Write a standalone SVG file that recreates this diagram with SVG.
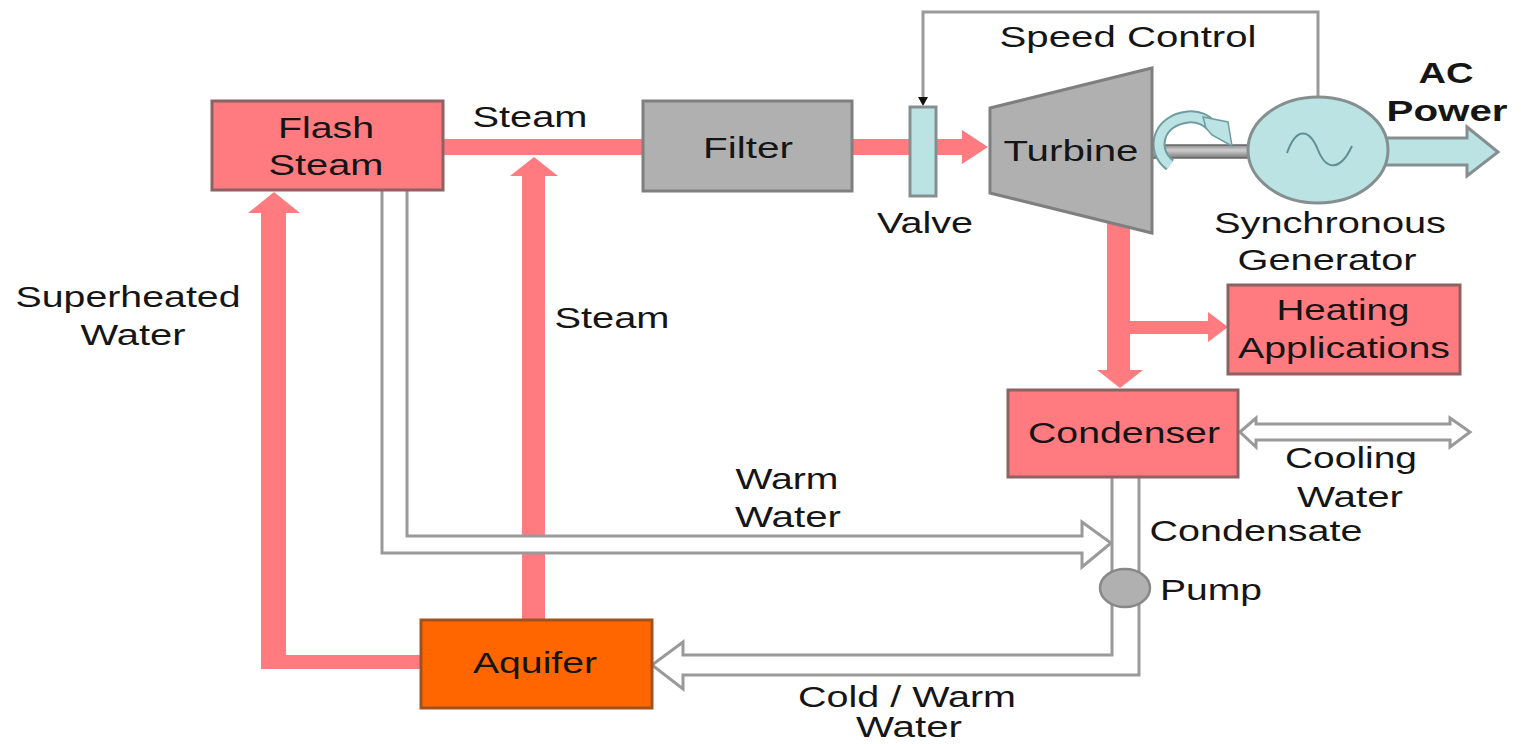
<svg xmlns="http://www.w3.org/2000/svg" width="1521" height="744" viewBox="0 0 1521 744">
<defs>
<style>
text{font-family:"Liberation Sans",Arial,sans-serif;font-size:30px;fill:#151515;text-anchor:middle}
.b{font-weight:bold}
.pink{fill:#ff7b80;stroke:none}
.box{fill:#ff7b80;stroke:#8c6262;stroke-width:3}
.gbox{fill:#b0b0b0;stroke:#7f7f7f;stroke-width:3}
.cyan{fill:#bce3e4;stroke:#858f90;stroke-width:3}
.pipe{fill:#ffffff;stroke:#9a9a9a;stroke-width:3}
.wire{fill:none;stroke:#9a9a9a;stroke-width:3}
</style>
<linearGradient id="shaft" x1="0" y1="0" x2="0" y2="1">
<stop offset="0" stop-color="#8a8a8a"/><stop offset="0.4" stop-color="#cfcfcf"/><stop offset="1" stop-color="#7a7a7a"/>
</linearGradient>
</defs>
<rect width="1521" height="744" fill="#ffffff"/>

<g id="connectors">
<rect class="pink" x="443" y="139" width="201" height="16"/>
<path class="pink" d="M852,139 H962 V130 L988,147 L962,164 V155 H852 Z"/>
<path class="pink" d="M522,620 V176 H510 L534,157 L558,176 H545 V620 Z"/>
<path class="pink" d="M421,655 H286 V213 H300 L274,192 L248,213 H261 V669 H421 Z"/>
<path class="pink" d="M1107,222 V370 H1097 L1120,388 L1143,370 H1130 V222 Z"/>
<path class="pink" d="M1128,321 H1208 V312 L1228,327 L1208,342 V334 H1128 Z"/>
<polyline class="wire" points="923,98 923,12 1318,12 1318,97"/>
<polygon points="918,97 928,97 923,106" fill="#111"/>
<path class="pipe" d="M1112,477 V655 H683 V642 L652,665 L683,689 V675 H1139 V477"/>
<path class="pipe" d="M407,190 V536 H1082 V522 L1111,543 L1082,567 V553 H382 V190"/>
<polygon class="pipe" points="1240,432 1256,418 1256,424 1450,424 1450,418 1470,432 1450,447 1450,440 1256,440 1256,447"/>
<rect x="1152" y="145" width="96" height="13" fill="url(#shaft)" stroke="#666" stroke-width="1.5"/>
<path d="M1170,165 C1150,150 1158,120 1188,117 C1198,116 1206,120 1212,126" fill="none" stroke="#6f9ca1" stroke-width="13"/>
<path d="M1170,165 C1150,150 1158,120 1188,117 C1198,116 1206,120 1212,126" fill="none" stroke="#bce3e4" stroke-width="9"/>
<polygon points="1203,117 1228,122 1232,146 1212,135 1206,128" fill="#bce3e4" stroke="#6f9ca1" stroke-width="1.5"/>
<polygon class="cyan" points="1383,138 1467,138 1467,127 1498,152 1467,176 1467,165 1383,165"/>
</g>

<g id="flash-steam">
<rect class="box" x="212" y="101" width="231" height="89"/>
<text x="326" y="138" textLength="96" lengthAdjust="spacingAndGlyphs">Flash</text>
<text x="326" y="175" textLength="115" lengthAdjust="spacingAndGlyphs">Steam</text>
</g>
<g id="filter">
<rect class="gbox" x="643" y="101" width="209" height="90"/>
<text x="748" y="158" textLength="90" lengthAdjust="spacingAndGlyphs">Filter</text>
</g>
<g id="valve">
<rect class="cyan" x="910" y="107" width="26" height="89"/>
<text x="925" y="233" textLength="96" lengthAdjust="spacingAndGlyphs">Valve</text>
</g>
<g id="turbine">
<polygon class="gbox" points="990,108 1152,68 1152,233 990,193"/>
<text x="1071" y="161" textLength="135" lengthAdjust="spacingAndGlyphs">Turbine</text>
</g>
<g id="generator">
<ellipse class="cyan" cx="1318" cy="150" rx="70" ry="53"/>
<path d="M1287,153 C1297,125 1310,130 1318,150 C1326,170 1340,172 1352,146" fill="none" stroke="#5f8f95" stroke-width="2"/>
<text x="1330" y="233" textLength="232" lengthAdjust="spacingAndGlyphs">Synchronous</text>
<text x="1327" y="270" textLength="179" lengthAdjust="spacingAndGlyphs">Generator</text>
</g>
<g id="heating">
<rect class="box" x="1228" y="285" width="232" height="89"/>
<text x="1343" y="320" textLength="133" lengthAdjust="spacingAndGlyphs">Heating</text>
<text x="1344" y="358" textLength="212" lengthAdjust="spacingAndGlyphs">Applications</text>
</g>
<g id="condenser">
<rect class="box" x="1008" y="390" width="230" height="87"/>
<text x="1124" y="443" textLength="192" lengthAdjust="spacingAndGlyphs">Condenser</text>
</g>
<g id="pump">
<ellipse cx="1125" cy="588" rx="25" ry="19" fill="#b0b0b0" stroke="#888" stroke-width="2.5"/>
</g>
<g id="aquifer">
<rect x="421" y="620" width="231" height="88" fill="#ff6600" stroke="#a0521e" stroke-width="3"/>
<text x="535" y="673" textLength="124" lengthAdjust="spacingAndGlyphs">Aquifer</text>
</g>

<g id="labels">
<text x="530" y="127" textLength="115" lengthAdjust="spacingAndGlyphs">Steam</text>
<text x="612" y="328" textLength="115" lengthAdjust="spacingAndGlyphs">Steam</text>
<text x="128" y="307" textLength="225" lengthAdjust="spacingAndGlyphs">Superheated</text>
<text x="133" y="345" textLength="105" lengthAdjust="spacingAndGlyphs">Water</text>
<text x="1128" y="47" textLength="257" lengthAdjust="spacingAndGlyphs">Speed Control</text>
<text class="b" x="1446" y="83" textLength="55" lengthAdjust="spacingAndGlyphs">AC</text>
<text class="b" x="1447" y="121" textLength="121" lengthAdjust="spacingAndGlyphs">Power</text>
<text x="1351" y="468" textLength="132" lengthAdjust="spacingAndGlyphs">Cooling</text>
<text x="1350" y="507" textLength="106" lengthAdjust="spacingAndGlyphs">Water</text>
<text x="1256" y="541" textLength="213" lengthAdjust="spacingAndGlyphs">Condensate</text>
<text x="1211" y="600" textLength="102" lengthAdjust="spacingAndGlyphs">Pump</text>
<text x="787" y="489" textLength="103" lengthAdjust="spacingAndGlyphs">Warm</text>
<text x="788" y="527" textLength="106" lengthAdjust="spacingAndGlyphs">Water</text>
<text x="907" y="707" textLength="218" lengthAdjust="spacingAndGlyphs">Cold / Warm</text>
<text x="909" y="737" font-size="28" textLength="106" lengthAdjust="spacingAndGlyphs">Water</text>
</g>
</svg>
